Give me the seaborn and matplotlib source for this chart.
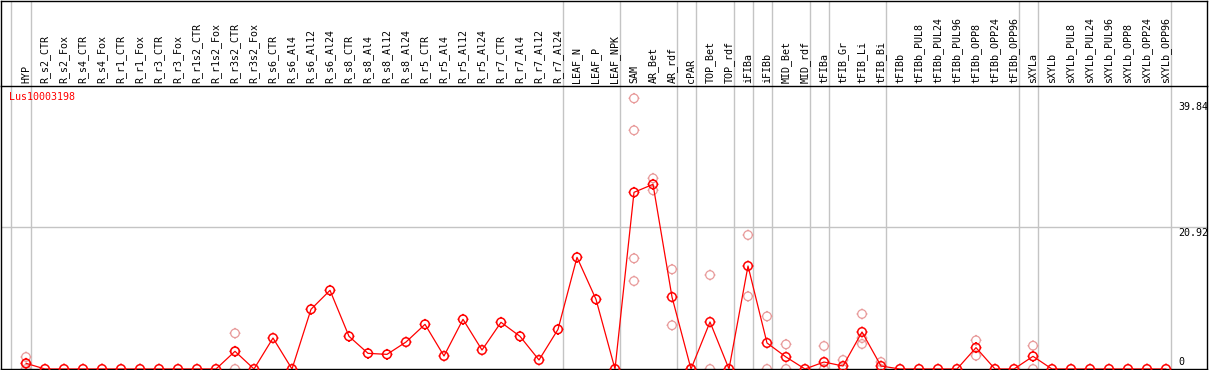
import numpy as np
import pandas as pd
import seaborn as sns
import matplotlib
matplotlib.use("Agg")
import matplotlib.pyplot as plt
from matplotlib.path import Path
from matplotlib.transforms import blended_transform_factory

# sample labels (x axis, shown in the header)
samples = [
    "HYP", "R_s2_CTR", "R_s2_Fox", "R_s4_CTR", "R_s4_Fox", "R_r1_CTR", "R_r1_Fox",
    "R_r3_CTR", "R_r3_Fox", "R_r1s2_CTR", "R_r1s2_Fox", "R_r3s2_CTR", "R_r3s2_Fox",
    "R_s6_CTR", "R_s6_Al4", "R_s6_Al12", "R_s6_Al24", "R_s8_CTR", "R_s8_Al4",
    "R_s8_Al12", "R_s8_Al24", "R_r5_CTR", "R_r5_Al4", "R_r5_Al12", "R_r5_Al24",
    "R_r7_CTR", "R_r7_Al4", "R_r7_Al12", "R_r7_Al24", "LEAF_N", "LEAF_P", "LEAF_NPK",
    "SAM", "AR_Bet", "AR_rdf", "cPAR", "TOP_Bet", "TOP_rdf", "iFIBa", "iFIBb",
    "MID_Bet", "MID_rdf", "tFIBa", "tFIB_Gr", "tFIB_Li", "tFIB_Bi", "tFIBb",
    "tFIBb_PUL8", "tFIBb_PUL24", "tFIBb_PUL96", "tFIBb_OPP8", "tFIBb_OPP24",
    "tFIBb_OPP96", "sXYLa", "sXYLb", "sXYLb_PUL8", "sXYLb_PUL24", "sXYLb_PUL96",
    "sXYLb_OPP8", "sXYLb_OPP24", "sXYLb_OPP96",
]

# mean expression per sample
mean_expr = [
    0.84, 0, 0, 0, 0, 0, 0, 0, 0, 0, 0, 2.61, 0,
    4.57, 0, 8.81, 11.61, 4.82, 2.31, 2.16, 3.98, 6.59, 1.92, 7.33, 2.80,
    6.89, 4.82, 1.33, 5.85, 16.48, 10.28, 0,
    26.07, 27.25, 10.62, 0, 6.94, 0, 15.20, 3.84,
    1.77, 0, 1.03, 0.44, 5.46, 0.44, 0,
    0, 0, 0, 3.15, 0, 0, 1.87, 0, 0, 0, 0, 0, 0, 0,
]

# individual replicates (pale circles)
rep_samples = (["HYP"] * 3 + ["R_r3s2_CTR"] * 3 + ["SAM"] * 4 + ["AR_Bet"] * 2
               + ["AR_rdf"] * 2 + ["cPAR"] * 2 + ["TOP_Bet"] * 2 + ["iFIBa"] * 2
               + ["iFIBb"] * 2 + ["MID_Bet"] * 2 + ["tFIBa"] * 2 + ["tFIB_Gr"] * 2
               + ["tFIB_Li"] * 3 + ["tFIB_Bi"] * 2 + ["tFIBb_OPP8"] * 2 + ["sXYLa"] * 2)
rep_values = [1.77, 0.75, 0, 5.27, 2.56, 0, 39.94, 35.22, 16.33, 12.98, 28.14, 26.37,
              14.71, 6.45, 0, 0, 13.87, 0, 19.77, 10.72,
              7.77, 0, 3.64, 0, 3.39, 0, 1.33, 0,
              8.12, 3.69, 4.57, 1.03, 0, 4.23, 1.97, 3.44, 0]

# samples after which a group separator is drawn
group_ends = ["HYP", "R_r7_Al24", "LEAF_NPK", "AR_rdf", "cPAR", "TOP_rdf", "iFIBa",
              "iFIBb", "MID_rdf", "tFIBa", "tFIB_Bi", "tFIBb_OPP96", "sXYLa", "sXYLb_OPP96"]

gene = "Lus10003198"
y_marks = [39.84, 20.92, 0]

pos = {s: i for i, s in enumerate(samples)}
df = pd.DataFrame({"x": range(len(samples)), "value": mean_expr})
reps = pd.DataFrame({"x": [pos[s] for s in rep_samples], "value": rep_values})

sns.set_style("white")
plt.rcParams["font.family"] = ["DejaVu Sans Mono"]
plt.rcParams["path.simplify"] = False

W, H = 1209, 370
fig = plt.figure(figsize=(W / 100, H / 100), dpi=100)
ax = fig.add_axes([1 / W, 1 / H, 1206 / W, 283 / H])
hdr = fig.add_axes([1 / W, 284 / H, 1206 / W, 85 / H])

px = 6.777  # pixels per unit
xlim = ((1 - 26) / 19, (1207 - 26) / 19)
for a in (ax, hdr):
    a.set_xlim(*xlim)
    a.set_xticks([])
    a.set_yticks([])
    for sp in a.spines.values():
        sp.set_color("black")
        sp.set_linewidth(1.0)
ax.set_ylim(0, 283 / px)
ax.spines["top"].set_visible(False)
hdr.set_ylim(0, 1)

grid_c = "#c4c4c4"
seps = [-0.8] + [pos[s] + 0.25 for s in group_ends]
for xs in seps:
    ax.axvline(xs, color=grid_c, lw=1.0, zorder=0)
    hdr.axvline(xs, color=grid_c, lw=1.0, zorder=0)
ax.axhline(y_marks[1], color=grid_c, lw=1.0, zorder=0)

# custom marker: hollow circle (polygon) with four short ticks
ang = np.linspace(0, 2 * np.pi, 41)
circ_v = np.column_stack([np.cos(ang), np.sin(ang)])
circ_c = [Path.MOVETO] + [Path.LINETO] * 40
t = 1.28
tick_v = [(0, 1), (0, t), (0, -1), (0, -t), (1, 0), (t, 0), (-1, 0), (-t, 0)]
tick_c = [Path.MOVETO, Path.LINETO] * 4
marker = Path(np.vstack([circ_v, tick_v]), circ_c + tick_c)

sns.scatterplot(data=reps, x="x", y="value", ax=ax, marker=marker, s=62,
                facecolor="none", edgecolor="#e89a9a", linewidth=0.9,
                clip_on=False, zorder=2, legend=False)
sns.lineplot(data=df, x="x", y="value", ax=ax, color="red", lw=0.9, zorder=3)
sns.scatterplot(data=df, x="x", y="value", ax=ax, marker=marker, s=62,
                facecolor="none", edgecolor="red", linewidth=1.1,
                clip_on=False, zorder=4, legend=False)
ax.set_xlabel("")
ax.set_ylabel("")

# header labels
tr = blended_transform_factory(hdr.transData, hdr.transAxes)
for i, s in enumerate(samples):
    hdr.text(i, 3 / 85, s, rotation=90, ha="center", va="bottom", transform=tr,
             fontsize=7.2, color="black")

ax.annotate(gene, xy=(0, 1), xycoords="axes fraction", xytext=(8, -11),
            textcoords="offset pixels", ha="left", va="center", color="red", fontsize=7.2)

ty = blended_transform_factory(ax.transAxes, ax.transData)
for v, ypix in zip(y_marks, [107, 233, 362]):
    ax.text((1178 - 1) / 1206, (369 - ypix) / px, f"{v:g}" if v == 0 else f"{v:.2f}",
            transform=ty, ha="left", va="center", fontsize=7.2, color="black")

fig.savefig("out.png", dpi=100)
